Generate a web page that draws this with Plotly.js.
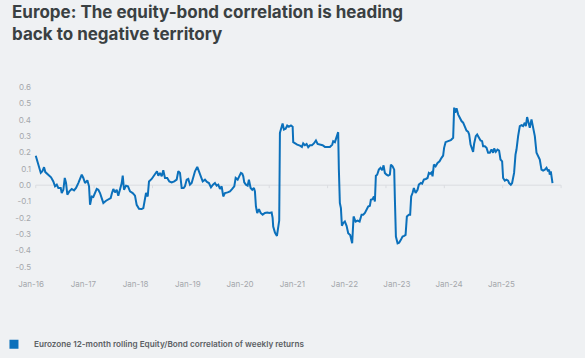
<!DOCTYPE html>
<html>
<head>
<meta charset="utf-8">
<script src="https://cdn.plot.ly/plotly-3.0.1.min.js"></script>
<style>html,body{margin:0;padding:0;background:#eff1f3;}#chart{width:585px;height:358px;}</style>
</head>
<body>
<div id="chart"></div>
<script>
// Dates as decimal years (weekly-ish readings)
const dates = [
2016.000,2016.027,2016.062,2016.086,2016.113,2016.142,2016.164,2016.216,2016.262,2016.301,2016.330,2016.360,2016.387,2016.428,2016.445,2016.473,2016.497,2016.519,2016.541,2016.575,2016.616,2016.656,2016.690,2016.729,2016.759,2016.788,2016.815,2016.844,2016.884,2016.913,2016.930,2016.959,2016.986,
2017.015,2017.045,2017.072,2017.101,2017.130,2017.158,2017.204,2017.243,2017.284,2017.306,2017.329,2017.358,2017.387,2017.414,2017.443,2017.473,2017.490,2017.512,2017.546,2017.580,2017.615,2017.661,2017.700,2017.729,2017.769,2017.815,2017.843,2017.872,2017.889,2017.918,2017.940,2017.986,
2018.014,2018.043,2018.077,2018.100,2018.128,2018.158,2018.185,2018.214,2018.253,2018.288,2018.329,2018.373,2018.414,2018.442,2018.471,2018.500,2018.534,2018.556,2018.586,2018.613,2018.642,2018.671,2018.699,2018.728,2018.767,2018.796,2018.830,2018.860,2018.899,2018.933,2018.967,
2019.002,2019.036,2019.070,2019.099,2019.127,2019.156,2019.185,2019.212,2019.241,2019.288,2019.327,2019.366,2019.401,2019.425,2019.459,2019.486,2019.515,2019.538,2019.555,2019.572,2019.601,2019.630,2019.652,2019.681,2019.709,2019.738,2019.755,2019.772,2019.794,2019.824,2019.853,2019.887,2019.926,2019.966,
2020.000,2020.041,2020.058,2020.068,2020.098,2020.132,2020.154,2020.171,2020.183,2020.212,2020.229,2020.252,2020.281,2020.308,2020.337,2020.372,2020.401,2020.411,2020.440,2020.479,2020.526,2020.560,2020.582,2020.611,2020.640,2020.668,2020.697,2020.731,2020.765,2020.800,2020.829,2020.868,2020.914,2020.954,
2021.000,2021.039,2021.079,2021.096,2021.125,2021.154,2021.181,2021.193,2021.210,2021.228,2021.245,2021.267,2021.296,2021.325,2021.353,2021.387,2021.421,2021.445,2021.479,2021.514,2021.548,2021.582,2021.610,2021.639,2021.668,2021.695,2021.724,2021.741,2021.770,2021.793,2021.810,2021.827,2021.849,2021.878,2021.907,2021.935,2021.959,2021.981,
2022.010,2022.038,2022.067,2022.084,2022.113,2022.141,2022.153,2022.170,2022.199,2022.226,2022.255,2022.284,2022.312,2022.336,2022.358,2022.392,2022.414,2022.432,2022.455,2022.478,2022.507,2022.541,2022.563,2022.598,2022.620,2022.649,2022.683,2022.712,2022.735,2022.757,2022.781,2022.798,2022.821,2022.850,2022.884,2022.918,2022.952,2022.979,2022.996,
2023.021,2023.065,2023.111,2023.151,2023.168,2023.185,2023.209,2023.236,2023.265,2023.294,2023.322,2023.351,2023.380,2023.408,2023.425,2023.449,2023.471,2023.493,2023.510,2023.539,2023.562,2023.596,2023.620,2023.647,2023.664,2023.694,2023.723,2023.750,2023.779,2023.808,2023.836,2023.853,2023.882,2023.911,2023.938,2023.962,2023.990,
2024.007,2024.036,2024.065,2024.092,2024.110,2024.139,2024.161,2024.178,2024.195,2024.219,2024.236,2024.264,2024.293,2024.322,2024.349,2024.378,2024.396,2024.418,2024.442,2024.464,2024.493,2024.521,2024.550,2024.579,2024.606,2024.635,2024.664,2024.692,2024.721,2024.750,2024.777,2024.794,2024.806,2024.824,2024.853
];
const corr = [
0.18,0.146,0.115,0.075,0.085,0.11,0.08,0.06,0.048,0.023,-0.007,0.003,-0.017,-0.017,-0.048,-0.028,0.044,0.013,-0.058,-0.038,-0.023,-0.032,-0.017,0.013,0.034,0.064,0.044,0.013,0.03,-0.007,-0.12,-0.069,-0.072,
-0.048,-0.023,-0.028,-0.048,-0.079,-0.109,-0.095,-0.089,-0.079,-0.048,-0.023,-0.044,-0.028,-0.064,-0.028,0.013,0.058,-0.028,-0.003,-0.007,-0.038,-0.048,-0.064,-0.12,-0.144,-0.146,-0.14,-0.079,-0.048,-0.069,0.023,0.038,
0.054,0.064,0.085,0.058,0.075,0.054,0.091,0.044,0.044,0.023,0.017,0.023,0.034,0.085,0.075,-0.017,-0.017,-0.007,0.034,0.038,0.003,0.013,0.054,0.085,0.112,0.085,0.044,0.023,0.034,0.02,0.013,
-0.013,0.003,0.013,-0.003,0.003,-0.023,-0.007,-0.069,-0.048,-0.044,-0.038,-0.023,-0.007,0.044,0.034,0.054,0.075,0.07,0.054,0.017,0.003,-0.003,0.034,-0.017,-0.028,-0.017,-0.038,-0.13,-0.17,-0.146,-0.17,-0.18,-0.17,-0.167,
-0.17,-0.167,-0.2,-0.253,-0.29,-0.31,-0.232,-0.216,0.32,0.351,0.377,0.34,0.345,0.365,0.357,0.365,0.357,0.263,0.255,0.248,0.242,0.234,0.255,0.244,0.252,0.232,0.244,0.244,0.255,0.273,0.252,0.248,0.244,0.234,
0.232,0.234,0.248,0.269,0.263,0.29,0.324,0.095,-0.109,-0.14,-0.248,-0.232,-0.222,-0.248,-0.293,-0.304,-0.355,-0.191,-0.222,-0.216,-0.222,-0.181,-0.181,-0.17,-0.15,-0.13,-0.126,-0.089,-0.085,-0.069,-0.1,0.058,0.064,0.095,0.106,0.091,0.121,0.075,
0.064,0.058,0.064,0.126,0.115,0.095,-0.089,-0.314,-0.355,-0.351,-0.334,-0.314,-0.31,-0.304,-0.191,-0.181,-0.181,-0.069,-0.048,-0.017,-0.048,-0.028,0.003,0.013,0.009,0.034,0.038,0.044,0.075,0.07,0.078,0.054,0.126,0.115,0.136,0.146,0.167,0.181,0.228,
0.263,0.269,0.275,0.29,0.474,0.443,0.47,0.433,0.408,0.392,0.382,0.351,0.334,0.326,0.31,0.248,0.228,0.204,0.253,0.3,0.31,0.29,0.273,0.269,0.238,0.238,0.228,0.198,0.198,0.218,0.198,0.224,0.204,0.218,0.212,0.157,0.146,
0.044,0.028,0.034,0.028,0.013,0.003,0.013,0.054,0.075,0.187,0.218,0.3,0.361,0.367,0.361,0.382,0.361,0.416,0.371,0.351,0.402,0.361,0.3,0.198,0.177,0.157,0.095,0.089,0.095,0.106,0.085,0.095,0.064,0.085,0.013
];
const xLabels = ['Jan-16','Jan-17','Jan-18','Jan-19','Jan-20','Jan-21','Jan-22','Jan-23','Jan-24','Jan-25'];
const years = [2016,2017,2018,2019,2020,2021,2022,2023,2024,2025];
const yTicks = [0.6,0.5,0.4,0.3,0.2,0.1,0.0,-0.1,-0.2,-0.3,-0.4,-0.5];
const seriesName = 'Eurozone 12-month rolling Equity/Bond correlation of weekly returns';

const BLUE = '#0b70bb';
const BG = '#eff1f3';
const FONT = 'Inter, "Open Sans", sans-serif';

// label positions (the source's category labels sit slightly off the year grid)
const labelStart = 2015.919, labelStep = 0.8953;
const labelVals = xLabels.map((_, i) => labelStart + i * labelStep);

const shapes = [{
  type: 'line', xref: 'x', yref: 'y', x0: years[0], x1: years[years.length - 1], y0: 0, y1: 0,
  line: {color: '#dadce0', width: 1}, layer: 'below'
}].concat(years.map(yr => ({
  type: 'line', xref: 'x', yref: 'y', ysizemode: 'pixel', yanchor: 0,
  x0: yr, x1: yr, y0: 0, y1: -3, line: {color: '#dadce0', width: 1}, layer: 'below'
})));

const traces = [{
  x: dates, y: corr, type: 'scatter', mode: 'lines',
  line: {color: BLUE, width: 2}, showlegend: false, hoverinfo: 'x+y'
}, {
  x: [null], y: [null], type: 'scatter', mode: 'markers', name: seriesName,
  marker: {symbol: 'square', size: 9, color: BLUE}, showlegend: true
}];

const layout = {
  width: 585, height: 358,
  paper_bgcolor: BG, plot_bgcolor: BG,
  margin: {l: 27, r: 21, t: 87, b: 91, pad: 0, autoexpand: false},
  font: {family: FONT},
  title: {
    text: 'Europe: The equity-bond correlation is heading<br>back to negative territory',
    font: {family: FONT, size: 17, color: '#3a4042', weight: 700},
    xref: 'container', yref: 'container', x: 12 / 585, xanchor: 'left', y: 1 - 18 / 358, yanchor: 'top'
  },
  xaxis: {
    range: [2015.85, 2025.05], showgrid: false, zeroline: false, showline: false,
    tickmode: 'array', tickvals: labelVals, ticktext: xLabels,
    ticks: 'outside', ticklen: 9, tickcolor: 'rgba(0,0,0,0)',
    tickfont: {family: FONT, size: 8, color: '#a4a7ab'}, fixedrange: true, automargin: false
  },
  yaxis: {
    range: [-0.5, 0.6], showgrid: false, zeroline: false, showline: false,
    tickmode: 'array', tickvals: yTicks, ticktext: yTicks.map(v => v.toFixed(1)),
    ticks: '', ticklabelstandoff: -5,
    tickfont: {family: FONT, size: 8, color: '#a4a7ab'}, fixedrange: true, automargin: false
  },
  shapes: shapes,
  showlegend: true,
  legend: {
    orientation: 'h', x: -0.0615, xanchor: 'left', y: -0.4285, yanchor: 'middle',
    bgcolor: 'rgba(0,0,0,0)', itemwidth: 30,
    font: {family: FONT, size: 8.2, color: '#5b5f64', weight: 600}
  }
};

Plotly.newPlot('chart', traces, layout, {displayModeBar: false, staticPlot: true});
</script>
</body>
</html>
